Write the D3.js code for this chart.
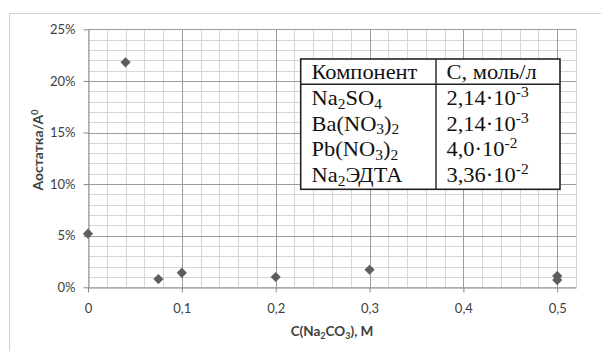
<!DOCTYPE html>
<html>
<head>
<meta charset="utf-8">
<script src="https://cdn.jsdelivr.net/npm/d3@7"></script>
<style>
  body { margin: 0; background: #fff; }
  svg { display: block; }
</style>
</head>
<body>
<svg id="svgRoot" width="601" height="351"></svg>
<script>
// measured points, C(Na2CO3) vs A_ост/A0
const xValues = [0, 0.04, 0.075, 0.1, 0.2, 0.3, 0.5, 0.5]
const yValues = [0.052, 0.218, 0.008, 0.014, 0.010, 0.017, 0.011, 0.007]

const xTicks = [0, 0.1, 0.2, 0.3, 0.4, 0.5]
const yTicks = [0, 0.05, 0.10, 0.15, 0.20, 0.25]

// table inset, _{..} = subscript, ^{..} = superscript
const tableHeader = ["Компонент", "С, моль/л"]
const components = ["Na_{2}SO_{4}", "Ba(NO_{3})_{2}", "Pb(NO_{3})_{2}", "Na_{2}ЭДТА"]
const concentrations = ["2,14·10^{-3}", "2,14·10^{-3}", "4,0·10^{-2}", "3,36·10^{-2}"]

const points = xValues.map((x, i) => ({ x: x, y: yValues[i] }))

function draw_vis() {
  let svg = d3.select("#svgRoot")

  const margin = { top: 29.3, left: 88, bottom: 63.7, right: 25 }
  let width = 601
  let height = 351

  // outer chart border (runs off the picture at right and bottom)
  svg.append("rect")
    .attr("x", 9.5).attr("y", 13.5)
    .attr("width", 700).attr("height", 500)
    .attr("fill", "#fff").attr("stroke", "#d0d0d0")

  let scale_x = d3.scaleLinear()
    .domain([0, 0.52])
    .range([margin.left, width - margin.right])

  let scale_y = d3.scaleLinear()
    .domain([0, 0.25])
    .range([height - margin.bottom, margin.top])

  let g_grid = svg.append("g").attr("class", "g_grid")

  // minor grid first, then major on top
  let xMinor = d3.range(0, 0.5201, 0.02)
  let yMinor = d3.range(0, 0.2501, 0.01)

  g_grid.selectAll(".vminor").data(xMinor).enter().append("line")
    .attr("x1", d => Math.round(scale_x(d)) + 0.5)
    .attr("x2", d => Math.round(scale_x(d)) + 0.5)
    .attr("y1", scale_y(0.25)).attr("y2", scale_y(0))
    .attr("stroke", "#d6d6d6")

  g_grid.selectAll(".hminor").data(yMinor).enter().append("line")
    .attr("y1", d => Math.round(scale_y(d)) + 0.5)
    .attr("y2", d => Math.round(scale_y(d)) + 0.5)
    .attr("x1", scale_x(0)).attr("x2", scale_x(0.52))
    .attr("stroke", "#d6d6d6")

  g_grid.selectAll(".vmajor").data(xTicks.slice(1)).enter().append("line")
    .attr("x1", d => Math.round(scale_x(d)) + 0.5)
    .attr("x2", d => Math.round(scale_x(d)) + 0.5)
    .attr("y1", scale_y(0.25)).attr("y2", scale_y(0))
    .attr("stroke", "#9c9c9c")

  g_grid.selectAll(".hmajor").data(yTicks.slice(1)).enter().append("line")
    .attr("y1", d => Math.round(scale_y(d)) + 0.5)
    .attr("y2", d => Math.round(scale_y(d)) + 0.5)
    .attr("x1", scale_x(0)).attr("x2", scale_x(0.52))
    .attr("stroke", "#9c9c9c")

  // axes
  let g_xAxis = svg.append("g").attr("class", "g_xAxis")
  let g_yAxis = svg.append("g").attr("class", "g_yAxis")

  g_xAxis
    .attr("transform", "translate(0, " + (Math.round(scale_y(0)) + 0.5) + ")")
    .call(d3.axisBottom(scale_x).tickValues(xTicks).tickSize(5).tickPadding(11).tickSizeOuter(0)
      .tickFormat(d => d === 0 ? "0" : d3.format(".1f")(d).replace(".", ",")))

  g_yAxis
    .attr("transform", "translate(" + (Math.round(scale_x(0)) + 0.5) + ", 0)")
    .call(d3.axisLeft(scale_y).tickValues(yTicks).tickSize(5).tickPadding(8).tickSizeOuter(0)
      .tickFormat(d3.format(".0%")))

  svg.selectAll(".g_xAxis path, .g_yAxis path, .g_xAxis line, .g_yAxis line")
    .attr("stroke", "#868686")
  svg.selectAll(".g_xAxis text, .g_yAxis text")
    .attr("font-family", "Lato, 'Open Sans', sans-serif")
    .attr("font-size", 13)
    .attr("fill", "#404040")

  // the right edge of the plot
  g_grid.append("line")
    .attr("x1", Math.round(scale_x(0.52)) + 0.5).attr("x2", Math.round(scale_x(0.52)) + 0.5)
    .attr("y1", scale_y(0.25)).attr("y2", scale_y(0))
    .attr("stroke", "#d6d6d6")

  // axis titles
  let yTitle = svg.append("text")
    .attr("transform", "translate(43, 150) rotate(-90)")
    .attr("text-anchor", "middle")
    .attr("font-family", "Lato, 'Open Sans', sans-serif")
    .attr("font-weight", "bold")
    .attr("font-size", 14)
    .attr("fill", "#404040")
  yTitle.append("tspan").text("Аостатка/А")
  yTitle.append("tspan").attr("font-size", 9.5).attr("dy", -5).text("0")

  let xTitle = svg.append("text")
    .attr("x", (scale_x(0) + scale_x(0.52)) / 2)
    .attr("y", 336)
    .attr("text-anchor", "middle")
    .attr("font-family", "Lato, 'Open Sans', sans-serif")
    .attr("font-weight", "bold")
    .attr("font-size", 13.5)
    .attr("fill", "#404040")
  addRich(xTitle, "C(Na_{2}CO_{3}), M", 9, 3, -6)

  // points
  let g_points = svg.append("g").attr("class", "g_points")
  g_points.selectAll(".pt").data(points).enter().append("path")
    .attr("class", "pt")
    .attr("d", d3.symbol().type(d3.symbolSquare).size(52))
    .attr("transform", d => "translate(" + scale_x(d.x) + "," + scale_y(d.y) + ") rotate(45)")
    .attr("fill", "#5e5e5e")

  // table inset
  let g_table = svg.append("g").attr("class", "g_table")
  const tx = 300.7, ty = 59, tw = 259.3, th = 130.3
  const colX = 436, headLine = 84.3
  g_table.append("rect")
    .attr("x", tx).attr("y", ty).attr("width", tw).attr("height", th)
    .attr("fill", "#fff").attr("stroke", "#222").attr("stroke-width", 1.6)
  g_table.append("line")
    .attr("x1", tx).attr("x2", tx + tw).attr("y1", headLine).attr("y2", headLine)
    .attr("stroke", "#222").attr("stroke-width", 1.4)
  g_table.append("line")
    .attr("x1", colX).attr("x2", colX).attr("y1", ty).attr("y2", ty + th)
    .attr("stroke", "#222").attr("stroke-width", 1.4)

  // the scan of the table is a bit stretched sideways
  const tFont = "'Liberation Serif', 'Times New Roman', serif"
  const stretch = 1.07
  function cell(x, y) {
    return g_table.append("text")
      .attr("transform", "translate(" + x + "," + y + ") scale(" + stretch + ",1)")
      .attr("font-family", tFont).attr("font-size", 21).attr("fill", "#111")
  }

  tableHeader.forEach((h, i) => {
    cell(i === 0 ? 311.5 : 446.5, 78.7).text(h)
  })

  components.forEach((c, i) => {
    addRich(cell(311.5, 105 + i * 25.7), c, 14.5, 3.5, -8)
    addRich(cell(446.5, 105 + i * 25.7), concentrations[i], 14.5, 3.5, -8)
  })
}

// splits "Na_{2}SO_{4}" into tspans with sub/superscripts
function addRich(textSel, str, smallSize, subShift, supShift) {
  let re = /([_^])\{([^}]*)\}/g
  let last = 0, m, shift = 0
  while ((m = re.exec(str)) !== null) {
    if (m.index > last) {
      textSel.append("tspan").attr("dy", -shift).text(str.slice(last, m.index))
      shift = 0
    }
    let s = m[1] === "_" ? subShift : supShift
    textSel.append("tspan").attr("font-size", smallSize).attr("dy", s - shift).text(m[2])
    shift = s
    last = re.lastIndex
  }
  if (last < str.length) {
    textSel.append("tspan").attr("dy", -shift).text(str.slice(last))
  }
}

draw_vis()
</script>
</body>
</html>
